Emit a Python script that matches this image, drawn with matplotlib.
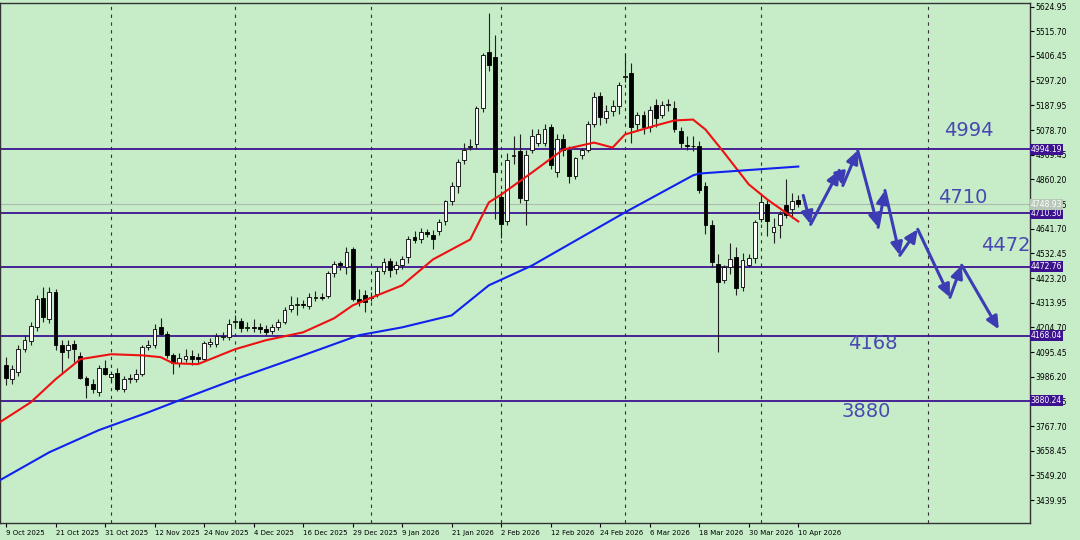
import matplotlib.pyplot as plt
from matplotlib.ticker import FixedLocator

# daily candles, 9 Oct 2025 .. 10 Apr 2026
opens = [4037, 3975, 4006, 4108, 4143, 4205, 4334, 4241, 4360, 4126, 4104, 4130, 4077, 3980, 3953, 3918,
         4024, 3986, 4002, 3931, 3978, 3975, 3997, 4117, 4126, 4205, 4174, 4081, 4046, 4064, 4077, 4073,
         4064, 4130, 4130, 4163, 4161, 4230, 4232, 4203, 4207, 4205, 4196, 4187, 4205, 4227, 4285, 4305,
         4309, 4298, 4336, 4340, 4342, 4444, 4488, 4470, 4550, 4329, 4347, 4336, 4351, 4453, 4497, 4462,
         4480, 4515, 4603, 4594, 4625, 4612, 4630, 4674, 4763, 4833, 4944, 5005, 5015, 5174, 5422, 5400,
         4780, 4678, 4963, 4984, 4767, 4992, 5023, 5023, 5094, 4891, 5037, 4992, 4873, 4970, 4992, 5107,
         5231, 5134, 5165, 5187, 5314, 5333, 5107, 5147, 5090, 5191, 5147, 5189, 5178, 5076, 5012, 5010,
         5010, 4833, 4656, 4484, 4413, 4470, 4515, 4382, 4480, 4510, 4683, 4749, 4625, 4656, 4745, 4727,
         4771]
highs = [4075, 4040, 4125, 4170, 4230, 4350, 4385, 4385, 4375, 4150, 4150, 4150, 4095, 3990, 3975, 4040,
         4060, 4010, 4025, 3990, 4000, 4020, 4125, 4150, 4220, 4245, 4190, 4090, 4090, 4110, 4105, 4090,
         4145, 4160, 4180, 4185, 4240, 4260, 4245, 4230, 4240, 4225, 4215, 4220, 4240, 4295, 4345, 4340,
         4325, 4355, 4365, 4355, 4455, 4500, 4500, 4560, 4560, 4375, 4370, 4360, 4470, 4510, 4510, 4500,
         4520, 4610, 4630, 4645, 4640, 4635, 4685, 4770, 4850, 4950, 5020, 5040, 5185, 5420, 5598, 5500,
         4810, 4975, 5050, 5060, 4990, 5085, 5085, 5105, 5105, 5060, 5060, 5010, 4960, 5000, 5120, 5245,
         5245, 5190, 5210, 5290, 5421, 5377, 5160, 5165, 5185, 5215, 5205, 5215, 5205, 5090, 5050, 5050,
         5030, 4850, 4680, 4530, 4480, 4580, 4560, 4535, 4530, 4680, 4790, 4770, 4690, 4720, 4860, 4800,
         4790]
lows = [3950, 3955, 3990, 4095, 4125, 4190, 4230, 4225, 4105, 4000, 4070, 4050, 3975, 3890, 3915, 3900,
        3995, 3965, 3925, 3920, 3960, 3965, 3990, 4105, 4115, 4165, 4070, 4000, 4030, 4050, 4040, 4045,
        4055, 4120, 4120, 4150, 4150, 4210, 4185, 4190, 4185, 4180, 4170, 4175, 4195, 4220, 4275, 4260,
        4290, 4285, 4320, 4325, 4335, 4430, 4460, 4440, 4320, 4300, 4275, 4320, 4340, 4440, 4430, 4440,
        4465, 4490, 4580, 4580, 4605, 4550, 4615, 4660, 4745, 4800, 4930, 4990, 5000, 5160, 5340, 4683,
        4600, 4660, 4930, 4755, 4656, 4975, 5010, 5010, 4905, 4870, 4965, 4845, 4860, 4950, 4980, 5090,
        5100, 5110, 5140, 5150, 5290, 5020, 5080, 5060, 5070, 5090, 5130, 5165, 5070, 5000, 4990, 4985,
        4800, 4620, 4470, 4095, 4400, 4440, 4350, 4365, 4470, 4490, 4670, 4610, 4580, 4600, 4690, 4690,
        4740]
closes = [3980, 4020, 4108, 4148, 4210, 4329, 4249, 4360, 4126, 4095, 4126, 4108, 3980, 3949, 3931, 4024,
          3997, 3997, 3931, 3975, 3982, 3997, 4117, 4126, 4196, 4174, 4081, 4046, 4068, 4077, 4064, 4064,
          4135, 4139, 4165, 4167, 4218, 4234, 4201, 4207, 4203, 4196, 4183, 4205, 4227, 4280, 4303, 4309,
          4305, 4338, 4340, 4336, 4444, 4484, 4479, 4537, 4329, 4316, 4316, 4340, 4453, 4493, 4457, 4480,
          4506, 4594, 4590, 4625, 4617, 4594, 4670, 4763, 4833, 4935, 4992, 5010, 5178, 5413, 5368, 4891,
          4661, 4948, 4970, 4776, 4966, 5054, 5063, 5085, 4922, 5041, 4992, 4877, 4953, 4992, 5107, 5227,
          5138, 5165, 5187, 5276, 5320, 5090, 5143, 5090, 5169, 5134, 5191, 5193, 5081, 5019, 5008, 5006,
          4815, 4656, 4493, 4404, 4470, 4506, 4378, 4502, 4510, 4670, 4758, 4678, 4648, 4705, 4701, 4763,
          4749]

# moving averages (vertices)
ma_fast_idx = [-1, 4, 8, 12, 17, 22, 25, 27, 31, 37, 42, 48, 53, 56, 58, 64, 69, 75, 78, 80, 85, 90,
               95, 98, 100, 105, 108, 111, 113, 116, 120, 123, 128]
ma_fast = [3785, 3873, 3975, 4064, 4086, 4081, 4073, 4046, 4042, 4108, 4148, 4183, 4245, 4302, 4325,
           4391, 4506, 4594, 4758, 4793, 4891, 4992, 5023, 5001, 5059, 5099, 5121, 5125, 5081, 4979,
           4838, 4771, 4674]
ma_slow_idx = [-1, 7, 15, 23, 28, 37, 48, 57, 64, 72, 78, 85, 100, 111, 112, 128]
ma_slow = [3528, 3652, 3750, 3829, 3882, 3975, 4081, 4170, 4205, 4258, 4391, 4479, 4714, 4878, 4886, 4917]

levels = [4994.19, 4710.30, 4472.76, 4168.04, 3880.24]
level_text = ['4994', '4710', '4472', '4168', '3880']
level_text_pos = [(155.5, 5035), (154.5, 4740), (161.5, 4525), (140, 4092), (139, 3790)]
last_price = 4748.93

# projected zigzag path
path_idx = [128.8, 130.0, 134.6, 135.2, 137.6, 140.9, 142.0, 144.4, 147.3, 152.5, 154.4, 160.4]
path_px = [4789, 4661, 4900, 4833, 4988, 4648, 4811, 4524, 4639, 4338, 4480, 4196]

date_labels = ['9 Oct 2025', '21 Oct 2025', '31 Oct 2025', '12 Nov 2025', '24 Nov 2025', '4 Dec 2025',
               '16 Dec 2025', '29 Dec 2025', '9 Jan 2026', '21 Jan 2026', '2 Feb 2026', '12 Feb 2026',
               '24 Feb 2026', '6 Mar 2026', '18 Mar 2026', '30 Mar 2026', '10 Apr 2026']
month_starts = [17, 37, 59, 80, 100, 122, 149]

bg = '#c6ecc8'
purple = '#3c1290'
arrow_c = '#3c3cb4'

fig = plt.figure(figsize=(10.8, 5.4), dpi=100, facecolor=bg)
ax = fig.add_axes([0.0, 0.032, 0.9535, 0.962])
ax.set_facecolor(bg)

ax.set_xlim(-0.97, 165.4)
ax.set_ylim(3340, 5640)

for m in month_starts:
    ax.axvline(m, color='#333333', lw=0.8, ls=(0, (3, 4)), zorder=1)

ax.axhline(last_price, color='#b0b8b0', lw=0.8, zorder=1)
for lv in levels:
    ax.axhline(lv, color=purple, lw=1.3, zorder=2)

for i in range(len(opens)):
    o, h, l, c = opens[i], highs[i], lows[i], closes[i]
    ax.vlines(i, l, h, color='#222222', lw=0.8, zorder=3)
    face = 'white' if c >= o else 'black'
    ax.bar(i, max(abs(c - o), 4), bottom=min(o, c), width=0.62, color=face,
           edgecolor='black', linewidth=0.6, zorder=4)

ax.plot(ma_fast_idx, ma_fast, color='#ee1111', lw=1.5, zorder=5)
ax.plot(ma_slow_idx, ma_slow, color='#1122ee', lw=1.5, zorder=5)

for k in range(len(path_idx) - 1):
    ax.annotate('', xy=(path_idx[k + 1], path_px[k + 1]), xytext=(path_idx[k], path_px[k]),
                arrowprops=dict(arrowstyle='-|>,head_length=0.75,head_width=0.35', color=arrow_c,
                                lw=2.2, shrinkA=0, shrinkB=0), zorder=6)

for txt, (x, y) in zip(level_text, level_text_pos):
    ax.text(x, y, txt, color='#4848b0', fontsize=14, ha='center', va='bottom', zorder=6)

# axes, ticks
yt = [5624.95 - 109.25 * k for k in range(21)]
ax.yaxis.tick_right()
ax.yaxis.set_major_locator(FixedLocator(yt))
ax.set_yticklabels([f'{v:.2f}' for v in yt], fontsize=5.5)
ax.set_xticks(range(0, 129, 8))
ax.set_xticklabels(date_labels, fontsize=5, ha='left')
ax.tick_params(axis='x', length=3, pad=2)
ax.tick_params(axis='y', length=3, pad=1)
for s in ax.spines.values():
    s.set_color('#333333')
    s.set_linewidth(1.0)

for lv in levels:
    ax.text(1.001, lv, f'{lv:.2f}', transform=ax.get_yaxis_transform(), fontsize=5.5, color='white',
            va='center', ha='left', bbox=dict(boxstyle='square,pad=0.12', fc=purple, ec='none'), zorder=7)
ax.text(1.001, last_price, f'{last_price:.2f}', transform=ax.get_yaxis_transform(), fontsize=5.5,
        color='white', va='center', ha='left',
        bbox=dict(boxstyle='square,pad=0.12', fc='#b8c8b8', ec='none'), zorder=7)

fig.savefig('out.png', dpi=100, facecolor=bg)
